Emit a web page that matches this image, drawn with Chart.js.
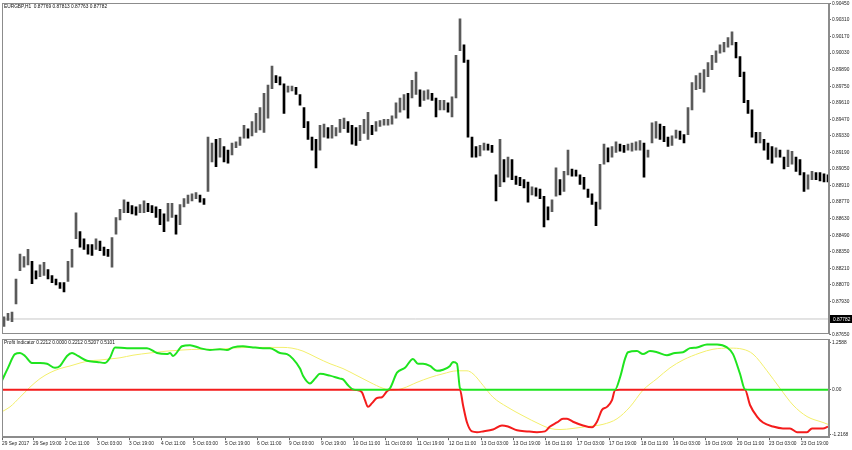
<!DOCTYPE html>
<html>
<head>
<meta charset="utf-8">
<script src="https://cdn.jsdelivr.net/npm/chart.js@4.4.0/dist/chart.umd.min.js"></script>
<style>
  html, body { margin: 0; padding: 0; background: #fff; width: 852px; height: 450px; overflow: hidden; }
  #wrap { position: relative; width: 852px; height: 450px; }
  canvas { position: absolute; left: 0; }
  #priceCanvas { top: 0; }
  #indCanvas { top: 336px; }
</style>
</head>
<body>
<div id="wrap">
  <canvas id="priceCanvas" width="852" height="338"></canvas>
  <canvas id="indCanvas" width="852" height="114"></canvas>
</div>
<script>
// EURGBP H1 - each entry is a 2 hour slice of the chart (high / low)
const highs = [
  0.8780, 0.8783, 0.8784, 0.8812, 0.8833, 0.8831, 0.8837, 0.8827, 0.8819, 0.8824,
  0.8826, 0.8820, 0.8815, 0.8812, 0.8809, 0.8809, 0.8827, 0.8837, 0.8868, 0.8852,
  0.8846, 0.8841, 0.8841, 0.8846, 0.8844, 0.8839, 0.8837, 0.8847, 0.8864, 0.8871,
  0.8879, 0.8877, 0.8874, 0.8873, 0.8875, 0.8878, 0.8876, 0.8874, 0.8873, 0.8871,
  0.8867, 0.8876, 0.8876, 0.8866, 0.8875, 0.8880, 0.8883, 0.8884, 0.8885, 0.8883,
  0.8880, 0.8932, 0.8927, 0.8930, 0.8931, 0.8924, 0.8921, 0.8927, 0.8928, 0.8932,
  0.8942, 0.8939, 0.8945, 0.8952, 0.8957, 0.8969, 0.8976, 0.8992, 0.8984, 0.8983,
  0.8977, 0.8975, 0.8975, 0.8974, 0.8968, 0.8957, 0.8945, 0.8932, 0.8930, 0.8942,
  0.8943, 0.8940, 0.8942, 0.8940, 0.8947, 0.8948, 0.8945, 0.8942, 0.8940, 0.8942,
  0.8947, 0.8953, 0.8942, 0.8945, 0.8946, 0.8947, 0.8947, 0.8950, 0.8961, 0.8965,
  0.8968, 0.8969, 0.8980, 0.8987, 0.8972, 0.8971, 0.8972, 0.8969, 0.8965, 0.8963,
  0.8963, 0.8961, 0.8966, 0.9001, 0.9032, 0.9010, 0.8997, 0.8932, 0.8924, 0.8925,
  0.8927, 0.8926, 0.8925, 0.8900, 0.8930, 0.8913, 0.8915, 0.8913, 0.8899, 0.8898,
  0.8896, 0.8894, 0.8890, 0.8889, 0.8888, 0.8882, 0.8873, 0.8879, 0.8906, 0.8896,
  0.8903, 0.8921, 0.8905, 0.8904, 0.8900, 0.8898, 0.8888, 0.8884, 0.8877, 0.8909,
  0.8926, 0.8923, 0.8924, 0.8928, 0.8926, 0.8925, 0.8926, 0.8927, 0.8928, 0.8929,
  0.8927, 0.8921, 0.8944, 0.8945, 0.8943, 0.8941, 0.8932, 0.8933, 0.8938, 0.8937,
  0.8934, 0.8957, 0.8978, 0.8984, 0.8986, 0.8989, 0.8995, 0.9001, 0.9005, 0.9010,
  0.9012, 0.9016, 0.9021, 0.9012, 0.9000, 0.8987, 0.8963, 0.8955, 0.8936, 0.8936,
  0.8930, 0.8927, 0.8924, 0.8923, 0.8921, 0.8915, 0.8921, 0.8920, 0.8915, 0.8913,
  0.8902, 0.8900, 0.8903, 0.8902, 0.8902, 0.8901, 0.8900
];
const lows = [
  0.8772, 0.8777, 0.8776, 0.8791, 0.8819, 0.8822, 0.8824, 0.8808, 0.8812, 0.8814,
  0.8815, 0.8812, 0.8809, 0.8807, 0.8804, 0.8801, 0.8810, 0.8822, 0.8846, 0.8839,
  0.8837, 0.8833, 0.8832, 0.8837, 0.8836, 0.8832, 0.8831, 0.8822, 0.8850, 0.8862,
  0.8868, 0.8868, 0.8867, 0.8866, 0.8868, 0.8868, 0.8869, 0.8868, 0.8864, 0.8858,
  0.8852, 0.8861, 0.8864, 0.8850, 0.8858, 0.8873, 0.8876, 0.8878, 0.8880, 0.8877,
  0.8875, 0.8886, 0.8911, 0.8907, 0.8915, 0.8911, 0.8910, 0.8917, 0.8923, 0.8925,
  0.8931, 0.8931, 0.8933, 0.8936, 0.8938, 0.8936, 0.8948, 0.8973, 0.8978, 0.8976,
  0.8952, 0.8970, 0.8971, 0.8968, 0.8959, 0.8940, 0.8930, 0.8921, 0.8906, 0.8921,
  0.8932, 0.8931, 0.8931, 0.8933, 0.8936, 0.8939, 0.8936, 0.8926, 0.8925, 0.8929,
  0.8935, 0.8930, 0.8934, 0.8937, 0.8941, 0.8942, 0.8942, 0.8943, 0.8948, 0.8953,
  0.8955, 0.8948, 0.8965, 0.8968, 0.8958, 0.8963, 0.8964, 0.8963, 0.8949, 0.8955,
  0.8955, 0.8953, 0.8949, 0.8965, 0.9005, 0.8995, 0.8932, 0.8915, 0.8915, 0.8916,
  0.8921, 0.8921, 0.8919, 0.8878, 0.8890, 0.8894, 0.8898, 0.8896, 0.8892, 0.8891,
  0.8889, 0.8877, 0.8883, 0.8882, 0.8880, 0.8856, 0.8862, 0.8869, 0.8882, 0.8883,
  0.8886, 0.8900, 0.8899, 0.8899, 0.8892, 0.8888, 0.8881, 0.8875, 0.8857, 0.8871,
  0.8909, 0.8911, 0.8915, 0.8919, 0.8920, 0.8919, 0.8921, 0.8920, 0.8921, 0.8921,
  0.8898, 0.8915, 0.8927, 0.8931, 0.8930, 0.8928, 0.8924, 0.8925, 0.8931, 0.8930,
  0.8927, 0.8934, 0.8955, 0.8972, 0.8973, 0.8970, 0.8983, 0.8989, 0.8995, 0.9003,
  0.9004, 0.9008, 0.9010, 0.8999, 0.8983, 0.8961, 0.8952, 0.8932, 0.8927, 0.8927,
  0.8921, 0.8913, 0.8910, 0.8915, 0.8915, 0.8905, 0.8907, 0.8909, 0.8903, 0.8900,
  0.8886, 0.8888, 0.8896, 0.8896, 0.8895, 0.8894, 0.8894
];
const lastPrice = 0.87782;
const priceTicks = [
  0.90450, 0.90310, 0.90170, 0.90030, 0.89890, 0.89750, 0.89610, 0.89470, 0.89330, 0.89190, 0.89050,
  0.88910, 0.88770, 0.88630, 0.88490, 0.88350, 0.88210, 0.88070, 0.87930, 0.87650
];

// Profit Indicator main line (hours from first bar, value)
const indHours = [
  0, 3, 6.5, 9, 11.5, 15, 19, 22.5, 26.5, 29,
  32.5, 35, 38, 42.5, 47.5, 51.5, 54, 56.5, 62.5, 67.5,
  72.5, 77.5, 82.5, 84, 85.5, 90, 94, 99, 104, 109,
  112.5, 115.5, 120.5, 125.5, 130.5, 134, 139, 142.5, 145.5, 149,
  150.5, 154, 156.5, 159, 164, 169, 170.5, 173, 175.5, 177.5,
  180, 181.5, 183, 185, 187.5, 190, 192.5, 194, 197.5, 201.5,
  205.5, 208, 210.5, 214, 217.5, 220.5, 224, 225.5, 227.5, 229,
  230.5, 232.5, 235, 237.5, 240.5, 245.5, 250, 253, 257.5, 262.5,
  267.5, 271.5, 274, 277.5, 280.5, 282.5, 285.5, 290.5, 295, 297.5,
  300, 302.5, 305, 306.5, 309, 311.5, 313, 317.5, 320.5, 324,
  327.5, 332.5, 336.5, 340.5, 344, 347.5, 352.5, 357.5, 362.5, 365.5,
  369, 371.5, 374, 377.5, 380.5, 385.5, 390.5, 394, 397.5, 402.5,
  405, 410.5, 413
];
const indValues = [
  0.25, 0.59, 0.96, 0.99, 0.91, 0.72, 0.72, 0.70, 0.59, 0.64,
  0.91, 0.99, 0.91, 0.78, 0.75, 0.72, 0.86, 1.14, 1.12, 1.12,
  1.12, 0.99, 0.96, 0.99, 0.91, 1.17, 1.20, 1.12, 1.07, 1.09,
  1.07, 1.14, 1.17, 1.14, 1.12, 1.12, 0.99, 0.96, 0.83, 0.57,
  0.38, 0.17, 0.30, 0.43, 0.38, 0.30, 0.28, 0.12, 0.01, -0.01,
  -0.07, -0.28, -0.46, -0.36, -0.22, -0.20, -0.04, 0.04, 0.46, 0.59,
  0.83, 0.70, 0.70, 0.64, 0.51, 0.54, 0.64, 0.75, 0.70, 0.04,
  -0.41, -0.88, -1.12, -1.14, -1.12, -1.07, -0.96, -0.99, -1.09, -1.12,
  -1.14, -1.12, -0.99, -0.88, -0.78, -0.78, -0.86, -0.96, -1.01, -0.86,
  -0.54, -0.46, -0.28, -0.01, 0.33, 0.83, 1.01, 1.04, 0.96, 1.04,
  1.01, 0.93, 0.99, 1.01, 1.12, 1.14, 1.22, 1.22, 1.14, 0.96,
  0.43, 0.01, -0.41, -0.72, -0.88, -0.99, -1.04, -1.04, -1.14, -1.14,
  -1.04, -1.04, -0.99
];
// signal line (yellow)
const sigHours = [
  0, 4, 9, 14, 19, 24, 29, 34, 39, 44,
  49, 54, 59, 65.5, 74, 82.5, 90.5, 99, 107.5, 115.5,
  124, 132.5, 140.5, 145, 150.5, 157.5, 164, 170.5, 177.5, 184,
  190.5, 195.5, 200.5, 207.5, 214, 220.5, 227.5, 232.5, 235.5, 240.5,
  245.5, 252.5, 260.5, 269, 274, 279, 285.5, 292.5, 300.5, 307.5,
  314, 320.5, 327.5, 334, 340.5, 349, 355.5, 364, 370.5, 375.5,
  382.5, 389, 395.5, 402.5, 410.5, 413
];
const sigValues = [
  -0.59, -0.46, -0.20, 0.07, 0.30, 0.46, 0.57, 0.64, 0.72, 0.78,
  0.80, 0.83, 0.86, 0.93, 0.99, 1.04, 1.07, 1.09, 1.09, 1.12,
  1.14, 1.14, 1.14, 1.12, 1.04, 0.86, 0.70, 0.57, 0.38, 0.20,
  0.04, -0.01, 0.04, 0.20, 0.33, 0.43, 0.51, 0.51, 0.43, 0.12,
  -0.20, -0.46, -0.70, -0.93, -1.04, -1.07, -1.04, -0.99, -0.93, -0.78,
  -0.46, -0.01, 0.30, 0.59, 0.80, 0.99, 1.09, 1.12, 1.09, 0.96,
  0.51, 0.04, -0.41, -0.72, -0.88, -0.93
];
const indTicks = [1.2588, 0, -1.2168];

// time axis
const tickHours = [
  0, 15.5, 31.5, 47.5, 63.5, 79.5, 95.5, 111.5, 127.5, 143.5, 159.5, 175.5, 191.5,
  207.5, 223.5, 239.5, 255.5, 271.5, 287.5, 303.5, 319.5, 335.5, 351.5, 367.5, 383.5, 399.5
];
const dateLabels = [
  '29 Sep 2017', '29 Sep 19:00', '2 Oct 11:00', '3 Oct 03:00', '3 Oct 19:00', '4 Oct 11:00',
  '5 Oct 03:00', '5 Oct 19:00', '6 Oct 11:00', '9 Oct 03:00', '9 Oct 19:00', '10 Oct 11:00',
  '11 Oct 03:00', '11 Oct 19:00', '12 Oct 11:00', '13 Oct 03:00', '13 Oct 19:00', '16 Oct 11:00',
  '17 Oct 03:00', '17 Oct 19:00', '18 Oct 11:00', '19 Oct 03:00', '19 Oct 19:00', '20 Oct 11:00',
  '23 Oct 03:00', '23 Oct 19:00'
];

const HOUR_MAX = 413.5;
const FONT_FAMILY = '"Liberation Sans", Arial, sans-serif';
const FONT = { family: FONT_FAMILY, size: 4.8, lineHeight: 1 };
const FRAME_COLOR = '#8c8c8c';

// cadre gris autour de la zone de tracé + légende en haut à gauche
function framePlugin(caption) {
  return {
    id: 'frame',
    afterDraw(chart) {
      const { ctx, chartArea: a } = chart;
      ctx.save();
      ctx.strokeStyle = FRAME_COLOR;
      ctx.lineWidth = 1;
      ctx.strokeRect(Math.round(a.left) + 0.5, Math.round(a.top) + 0.5,
        Math.round(a.right - a.left) - 1, Math.round(a.bottom - a.top) - 1);
      ctx.fillStyle = '#111';
      ctx.font = '4.8px ' + FONT_FAMILY;
      ctx.textBaseline = 'middle';
      ctx.fillText(caption, a.left + 2, a.top + 3.5);
      ctx.restore();
    }
  };
}

// étiquette noire du dernier prix sur l'axe
const priceTag = {
  id: 'priceTag',
  afterDraw(chart) {
    const { ctx, chartArea: a, scales: { y } } = chart;
    const py = Math.round(y.getPixelForValue(lastPrice));
    ctx.save();
    ctx.fillStyle = '#000';
    ctx.fillRect(a.right + 1, py - 4, 22, 8);
    ctx.fillStyle = '#fff';
    ctx.font = '4.8px ' + FONT_FAMILY;
    ctx.textBaseline = 'middle';
    ctx.fillText(lastPrice.toFixed(5), a.right + 4, py + 0.5);
    ctx.restore();
  }
};

const barData = highs.map((h, i) => ({ x: 1 + 2 * i, y: [lows[i], h] }));
const barColors = highs.map((h, i) =>
  i > 0 && h + lows[i] < highs[i - 1] + lows[i - 1] ? '#000000' : '#5a5a5a');

new Chart(document.getElementById('priceCanvas'), {
  type: 'bar',
  data: {
    datasets: [
      {
        data: barData,
        backgroundColor: barColors,
        barThickness: 2,
        order: 1
      },
      {
        type: 'line',
        data: [{ x: 0, y: lastPrice }, { x: HOUR_MAX, y: lastPrice }],
        borderColor: '#c8c8c8',
        borderWidth: 1,
        pointRadius: 0,
        order: 2
      }
    ]
  },
  options: {
    responsive: false,
    animation: false,
    layout: { padding: { left: 2, top: 2, right: 0, bottom: 2 } },
    plugins: { legend: { display: false }, tooltip: { enabled: false } },
    scales: {
      x: { type: 'linear', min: 0, max: HOUR_MAX, offset: false, display: false },
      y: {
        position: 'right',
        min: 0.8765,
        max: 0.9045,
        afterBuildTicks: s => { s.ticks = priceTicks.map(v => ({ value: v })); },
        afterFit: s => { s.width = 23; },
        ticks: { font: FONT, color: '#222', padding: 1, callback: v => v.toFixed(5) },
        grid: { drawOnChartArea: false, tickLength: 2, color: '#666' },
        border: { color: FRAME_COLOR }
      }
    }
  },
  plugins: [framePlugin('EURGBP,H1  0.87769 0.87813 0.87763 0.87782'), priceTag]
});

const greenPts = indHours.map((h, i) => ({ x: h, y: Math.max(indValues[i], 0) }));
const redPts = indHours.map((h, i) => ({ x: h, y: Math.min(indValues[i], 0) }));
const sigPts = sigHours.map((h, i) => ({ x: h, y: sigValues[i] }));

new Chart(document.getElementById('indCanvas'), {
  type: 'line',
  data: {
    datasets: [
      { data: greenPts, borderColor: '#1fe41f', borderWidth: 2 },
      { data: redPts, borderColor: '#f41c1c', borderWidth: 2 },
      { data: sigPts, borderColor: '#f3ef6c', borderWidth: 1 }
    ]
  },
  options: {
    responsive: false,
    animation: false,
    elements: {
      point: { radius: 0 },
      line: { tension: 0.4, cubicInterpolationMode: 'monotone' }
    },
    layout: { padding: { left: 2, top: 2, right: 0, bottom: 3 } },
    plugins: { legend: { display: false }, tooltip: { enabled: false } },
    scales: {
      x: {
        type: 'linear',
        min: 0,
        max: HOUR_MAX,
        afterBuildTicks: s => { s.ticks = tickHours.map(v => ({ value: v })); },
        ticks: {
          font: FONT, color: '#222', align: 'start', maxRotation: 0, autoSkip: false, padding: 1,
          callback: (v, i) => dateLabels[i]
        },
        grid: { drawOnChartArea: false, tickLength: 3, color: '#666' },
        border: { color: FRAME_COLOR }
      },
      y: {
        position: 'right',
        min: -1.276,
        max: 1.355,
        afterBuildTicks: s => { s.ticks = indTicks.map(v => ({ value: v })); },
        afterFit: s => { s.width = 23; },
        ticks: {
          font: FONT, color: '#222', padding: 1,
          callback: v => (v === 0 ? '0.00' : v.toFixed(4))
        },
        grid: { drawOnChartArea: false, tickLength: 2, color: '#666' },
        border: { color: FRAME_COLOR }
      }
    }
  },
  plugins: [framePlugin('Profit Indicator 0.2212 0.0000 0.2212 0.5207 0.5101')]
});
</script>
</body>
</html>
